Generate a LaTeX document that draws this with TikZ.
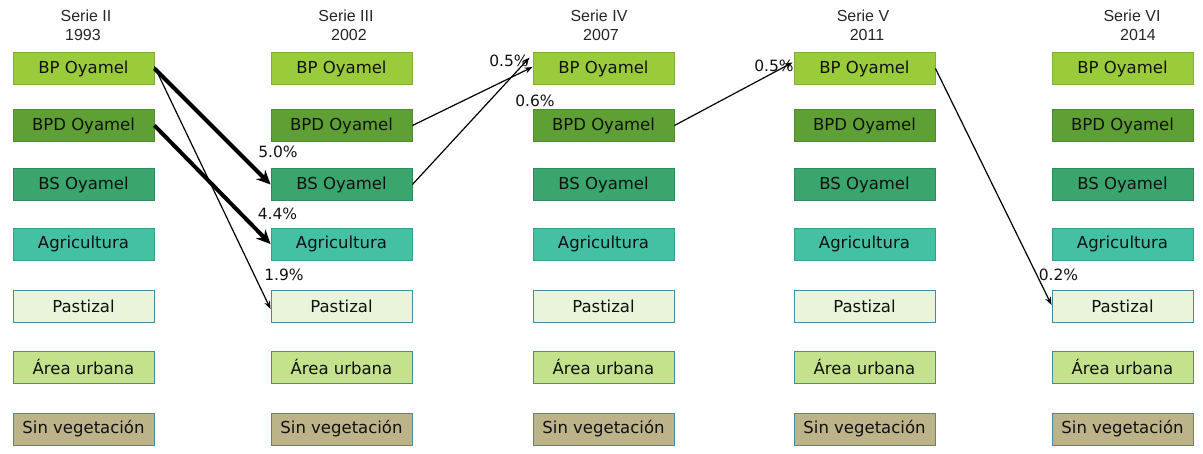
\documentclass[tikz,border=0pt]{standalone}
\usepackage{fontspec}
\setmainfont{DejaVu Sans}
\newfontfamily\hdrfont{Liberation Sans}
\usetikzlibrary{arrows.meta}
\definecolor{cBP}{HTML}{9ACB3A}
\definecolor{cBPb}{HTML}{82AE3C}
\definecolor{cBPD}{HTML}{5FA035}
\definecolor{cBPDb}{HTML}{4E8A2F}
\definecolor{cBS}{HTML}{3AA56C}
\definecolor{cBSb}{HTML}{2F8A5C}
\definecolor{cAG}{HTML}{43C1A2}
\definecolor{cAGb}{HTML}{35A08A}
\definecolor{cPA}{HTML}{EAF4DA}
\definecolor{cAU}{HTML}{C3E28B}
\definecolor{cSV}{HTML}{BCB389}
\definecolor{cTeal}{HTML}{3C8EA3}
\definecolor{cHdr}{HTML}{262626}
\definecolor{cTxt}{HTML}{111111}
\tikzset{
  box/.style={draw, line width=0.9pt, minimum width=141pt, minimum height=32pt, inner sep=0pt,
    font=\fontsize{16.5}{18}\selectfont, text=cTxt},
  bp/.style={box, fill=cBP, draw=cBPb},
  bpd/.style={box, fill=cBPD, draw=cBPDb},
  bs/.style={box, fill=cBS, draw=cBSb},
  ag/.style={box, fill=cAG, draw=cAGb},
  pa/.style={box, fill=cPA, draw=cTeal},
  au/.style={box, fill=cAU, draw=cTeal},
  sv/.style={box, fill=cSV, draw=cTeal},
  hdr/.style={font=\hdrfont\fontsize{16}{18}\selectfont, text=cHdr, inner sep=0pt},
  pct/.style={font=\fontsize{15.5}{17}\selectfont, text=cTxt, inner sep=0pt},
  thick arrow/.style={line width=4pt, -{Stealth[length=14pt, width=13pt]}},
  thin arrow/.style={line width=1.2pt, -{Stealth[length=8pt, width=6pt]}},
}
\begin{document}
\begin{tikzpicture}[x=1pt, y=-1pt]
\useasboundingbox (0,0) rectangle (1203,454);
% headers
\node[hdr] (h1a) at (86,15.5) {Serie II};
\node[hdr] (h1b) at (83,35) {1993};
\node[hdr] (h2a) at (346,15.5) {Serie III};
\node[hdr] (h2b) at (349,35) {2002};
\node[hdr] (h3a) at (599,15.5) {Serie IV};
\node[hdr] (h3b) at (601,35) {2007};
\node[hdr] (h4a) at (863,15.5) {Serie V};
\node[hdr] (h4b) at (867,35) {2011};
\node[hdr] (h5a) at (1132,15.5) {Serie VI};
\node[hdr] (h5b) at (1138,35) {2014};
% boxes
\foreach \c/\x in {1/83.5, 2/341.5, 3/603.5, 4/864.5, 5/1122.5} {
  \node[bp] (bp\c) at (\x,68.5) {BP Oyamel};
  \node[bpd] (bpd\c) at (\x,125.5) {BPD Oyamel};
  \node[bs] (bs\c) at (\x,184.5) {BS Oyamel};
  \node[ag] (ag\c) at (\x,244) {Agricultura};
  \node[pa] (pa\c) at (\x,306) {Pastizal};
  \node[au] (au\c) at (\x,367) {Área urbana};
  \node[sv] (sv\c) at (\x,429) {Sin vegetación};
}
% arrows
\draw[thick arrow] (bp1.east) -- (bs2.west);
\draw[thick arrow] (bpd1.east) -- (ag2.west);
\draw[thin arrow] ([yshift=2pt]bp1.east) -- ([yshift=-3pt]pa2.west);
\draw[thin arrow] (bpd2.east) -- ([yshift=1.5pt]bp3.west);
\draw[thin arrow] (bs2.east) -- ([xshift=-3pt,yshift=11pt]bp3.west);
\draw[thin arrow] (bpd3.east) -- ([xshift=-1pt,yshift=6pt]bp4.west);
\draw[thin arrow] (bp4.east) -- ([yshift=1pt]pa5.west);
% labels
\node[pct] (l1) at (278,152) {5.0\%};
\node[pct] (l2) at (277.5,213.5) {4.4\%};
\node[pct] (l3) at (284,275) {1.9\%};
\node[pct] (l4) at (509,60.5) {0.5\%};
\node[pct] (l5) at (535,100.5) {0.6\%};
\node[pct] (l6) at (774,66) {0.5\%};
\node[pct] (l7) at (1058.5,274.5) {0.2\%};
\end{tikzpicture}
\end{document}
